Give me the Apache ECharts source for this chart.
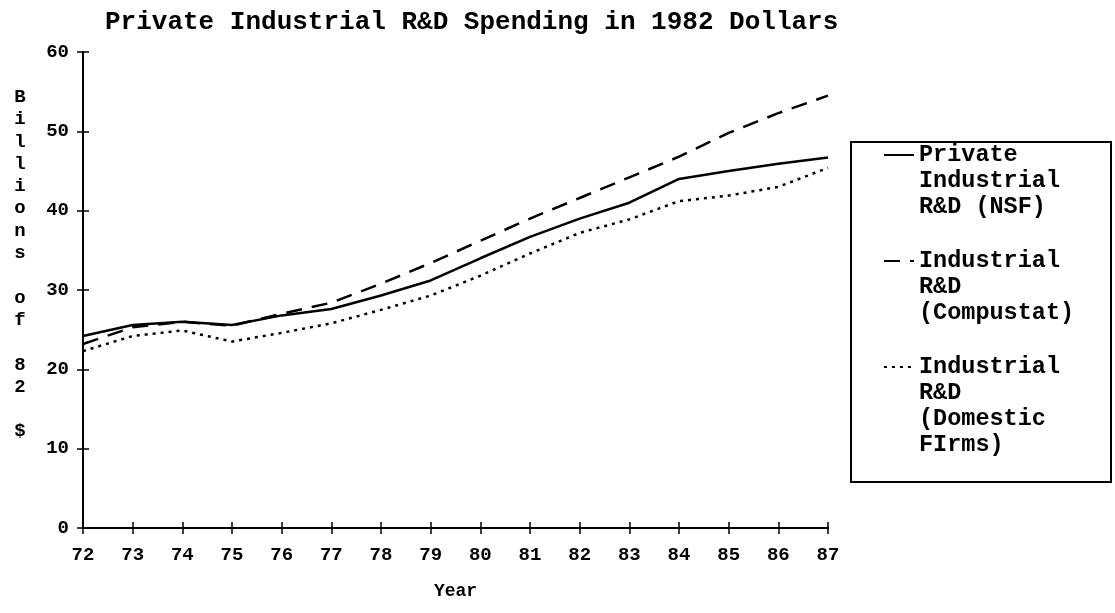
<!DOCTYPE html>
<html>
<head>
<meta charset="utf-8">
<title>Private Industrial R&D Spending</title>
<script src="https://cdn.jsdelivr.net/npm/echarts@6/dist/echarts.min.js"></script>
<style>
  html, body { margin: 0; padding: 0; background: #fff; }
  #main { width: 1115px; height: 613px; }
</style>
</head>
<body>
<div id="main"></div>
<script>
var years = ['72', '73', '74', '75', '76', '77', '78', '79', '80', '81', '82', '83', '84', '85', '86', '87'];
var yTicks = [0, 10, 20, 30, 40, 50, 60];

var nsfName = 'Private Industrial R&D (NSF)';
var compustatName = 'Industrial R&D (Compustat)';
var domesticName = 'Industrial R&D (Domestic FIrms)';

// billions of 1982 dollars
var nsf = [24.2, 25.6, 26.0, 25.6, 26.8, 27.6, 29.3, 31.2, 34.0, 36.7, 39.0, 41.0, 44.0, 45.0, 45.9, 46.7];
var compustat = [23.2, 25.3, 26.0, 25.5, 27.0, 28.4, 30.8, 33.4, 36.2, 39.0, 41.6, 44.2, 46.8, 49.8, 52.3, 54.5];
var domestic = [22.3, 24.2, 24.9, 23.5, 24.6, 25.8, 27.5, 29.3, 31.8, 34.6, 37.2, 38.9, 41.2, 41.9, 43.0, 45.4];

var font = 'Liberation Mono';
var lineH = 26;

var legendText = {};
legendText[nsfName] = 'Private\nIndustrial\nR&D (NSF)';
legendText[compustatName] = 'Industrial\nR&D\n(Compustat)';
legendText[domesticName] = 'Industrial\nR&D\n(Domestic\nFIrms)';

// legend text is centred on the icon: every entry gets 4 lines, then 3 blank
// lines on top so the first line sits level with the icon
var legendLabel = function (name) {
  var lines = legendText[name].split('\n');
  while (lines.length < 4) lines.push('');
  return '\n\n\n' + lines.join('\n');
};

var option = {
  animation: false,
  backgroundColor: '#fff',
  title: {
    text: 'Private Industrial R&D Spending in 1982 Dollars',
    left: 100,
    top: 4,
    textStyle: { fontFamily: font, fontWeight: 'bold', fontSize: 26, color: '#000' }
  },
  legend: {
    orient: 'vertical',
    left: 883,
    top: 64,
    padding: 0,
    itemWidth: 30,
    itemHeight: 14,
    itemGap: -76,
    itemStyle: { opacity: 0 },
    data: [nsfName, compustatName, domesticName],
    formatter: legendLabel,
    textStyle: { fontFamily: font, fontWeight: 'bold', fontSize: 23.5, lineHeight: lineH, color: '#000' }
  },
  graphic: [
    {
      type: 'rect',
      shape: { x: 851, y: 142, width: 260, height: 340 },
      style: { fill: 'none', stroke: '#000', lineWidth: 2 }
    },
    {
      type: 'text',
      style: {
        x: 20,
        y: 86,
        text: 'B\ni\nl\nl\ni\no\nn\ns\n\no\nf\n\n8\n2\n\n$',
        align: 'center',
        lineHeight: 22.3,
        font: 'bold 19px "Liberation Mono"',
        fill: '#000'
      }
    }
  ],
  grid: { left: 83, right: 287, top: 52, bottom: 85 },
  xAxis: [
    {
      type: 'category',
      data: years,
      boundaryGap: false,
      name: 'Year',
      nameLocation: 'middle',
      nameGap: 54,
      nameTextStyle: { fontFamily: font, fontWeight: 'bold', fontSize: 18, color: '#000' },
      axisLine: { lineStyle: { color: '#000', width: 2 } },
      axisTick: { length: 6, lineStyle: { color: '#000', width: 1.5 } },
      axisLabel: { margin: 18, fontFamily: font, fontWeight: 'bold', fontSize: 19, color: '#000' }
    },
    {
      // inner half of the crossing ticks
      type: 'category',
      data: years,
      boundaryGap: false,
      position: 'bottom',
      axisLine: { show: false },
      axisTick: { inside: true, length: 6, lineStyle: { color: '#000', width: 1.5 } },
      axisLabel: { show: false }
    }
  ],
  yAxis: [
    {
      type: 'value',
      min: yTicks[0],
      max: yTicks[yTicks.length - 1],
      interval: 10,
      splitLine: { show: false },
      axisLine: { show: true, lineStyle: { color: '#000', width: 2 } },
      axisTick: { show: true, length: 6, lineStyle: { color: '#000', width: 1.5 } },
      axisLabel: { margin: 14, fontFamily: font, fontWeight: 'bold', fontSize: 19, color: '#000' }
    },
    {
      type: 'value',
      position: 'left',
      min: yTicks[0],
      max: yTicks[yTicks.length - 1],
      interval: 10,
      splitLine: { show: false },
      axisLine: { show: false },
      axisTick: { show: true, inside: true, length: 6, lineStyle: { color: '#000', width: 1.5 } },
      axisLabel: { show: false }
    }
  ],
  series: [
    {
      name: nsfName,
      type: 'line',
      data: nsf,
      symbol: 'none',
      color: '#000',
      lineStyle: { color: '#000', width: 2.5, type: 'solid' }
    },
    {
      name: compustatName,
      type: 'line',
      data: compustat,
      symbol: 'none',
      color: '#000',
      lineStyle: { color: '#000', width: 2.5, type: [16, 10] }
    },
    {
      name: domesticName,
      type: 'line',
      data: domestic,
      symbol: 'none',
      color: '#000',
      lineStyle: { color: '#000', width: 2.5, type: [3, 5] }
    }
  ]
};

var myChart = echarts.init(document.getElementById('main'));
myChart.setOption(option);
</script>
</body>
</html>
